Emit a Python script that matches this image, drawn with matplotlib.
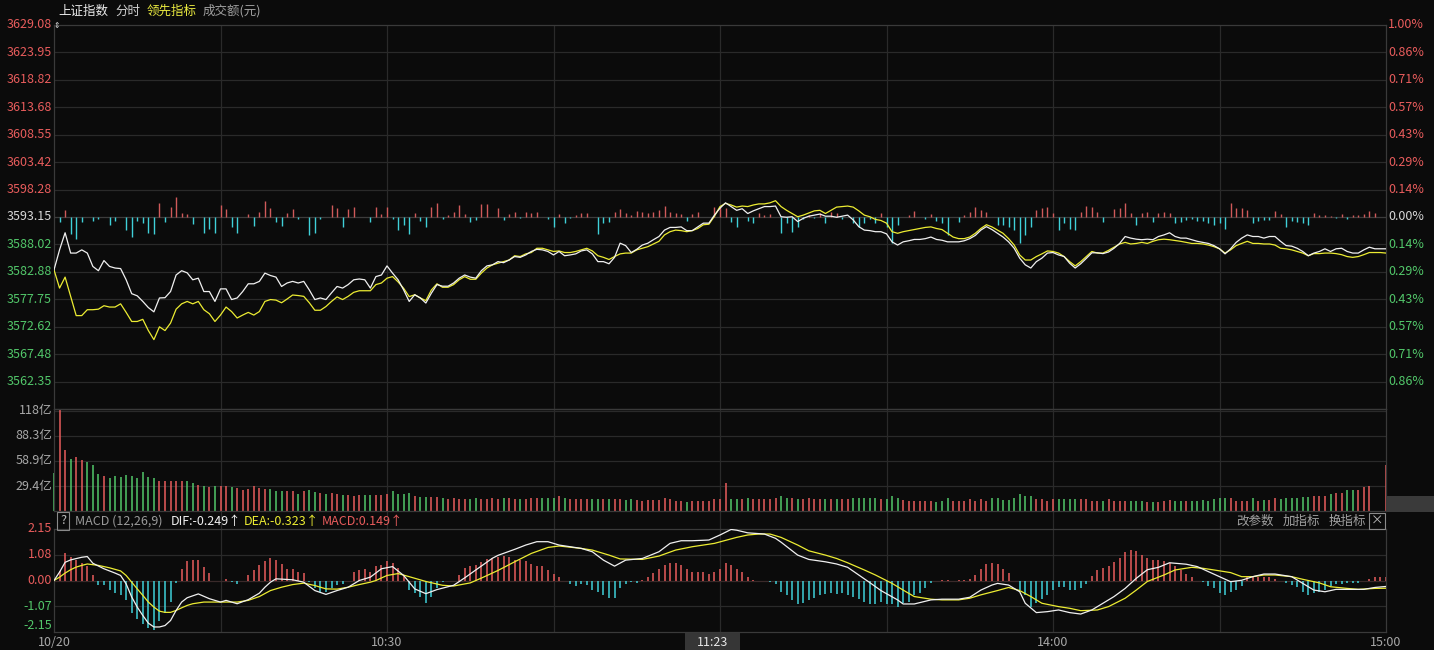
import matplotlib
matplotlib.use("Agg")
import matplotlib.pyplot as plt
import matplotlib.transforms as mtransforms
from matplotlib.patches import Rectangle
import numpy as np

plt.rcParams['font.family'] = ['Noto Sans CJK SC', 'DejaVu Sans']

# ---- data (one value per minute, 9:30 .. 15:00 -> 241 points) ----
prev_close = 3593.15

white = [
    3583.26, 3587.0, 3590.2, 3586.4, 3586.4, 3587.0, 3586.4, 3583.9, 3583.1, 3585.0,
    3583.9, 3583.6, 3583.5, 3581.4, 3578.8, 3578.4, 3577.35, 3576.2, 3575.4, 3578.0,
    3578.05, 3579.2, 3582.3, 3583.1, 3582.7, 3581.4, 3581.7, 3579.2, 3579.2, 3577.35,
    3579.7, 3579.7, 3577.7, 3578.0, 3579.2, 3580.65, 3580.65, 3581.1, 3582.65, 3582.2,
    3581.9, 3580.15, 3580.8, 3581.1, 3580.8, 3581.1, 3579.5, 3577.7, 3578.0, 3577.7,
    3578.95, 3580.15, 3579.85, 3580.5, 3581.4, 3581.55, 3581.4, 3579.85, 3582.0, 3582.3,
    3584.0, 3582.65, 3581.4, 3579.5, 3577.35, 3578.6, 3578.0, 3577.05, 3578.9, 3580.5,
    3580.2, 3580.2, 3580.8, 3581.7, 3582.3, 3581.9, 3581.7, 3583.1, 3584.0, 3584.2,
    3584.8, 3584.6, 3585.1, 3585.75, 3585.6, 3586.05, 3586.7, 3587.1, 3587.0, 3586.7,
    3586.05, 3586.7, 3585.9, 3586.05, 3586.25, 3586.8, 3587.0, 3586.25, 3584.8, 3584.8,
    3584.4, 3585.6, 3588.25, 3587.8, 3586.5, 3587.1, 3587.9, 3588.25, 3588.9, 3589.5,
    3590.7, 3591.2, 3591.2, 3591.3, 3590.6, 3590.6, 3591.3, 3592.0, 3592.0, 3593.5,
    3594.8, 3595.8, 3595.1, 3594.4, 3594.7, 3593.8, 3594.3, 3594.7, 3595.1, 3595.1,
    3595.2, 3593.2, 3593.1, 3593.2, 3592.3, 3592.9, 3593.3, 3593.5, 3593.7, 3593.3,
    3593.3, 3593.1, 3593.3, 3593.5, 3592.6, 3591.35, 3590.7, 3590.6, 3590.4, 3590.4,
    3590.0, 3588.5, 3587.9, 3588.5, 3588.7, 3588.95, 3588.95, 3589.1, 3589.4, 3588.95,
    3588.8, 3588.5, 3588.5, 3588.5, 3588.7, 3589.1, 3589.7, 3590.7, 3591.35, 3590.8,
    3590.1, 3589.4, 3588.5, 3587.3, 3585.45, 3584.2, 3583.6, 3584.8, 3585.45, 3586.4,
    3586.5, 3586.05, 3585.75, 3584.5, 3583.6, 3584.4, 3585.4, 3586.45, 3586.45, 3586.3,
    3586.6, 3587.3, 3588.2, 3589.5, 3589.2, 3589.0, 3588.9, 3589.0, 3588.9, 3589.5,
    3589.8, 3590.2, 3589.5, 3589.2, 3589.2, 3588.9, 3588.6, 3588.4, 3588.2, 3587.8,
    3587.2, 3586.25, 3587.2, 3588.4, 3589.2, 3589.8, 3589.5, 3589.5, 3589.2, 3589.5,
    3589.5, 3588.6, 3587.8, 3587.7, 3587.3, 3586.7, 3585.9, 3586.4, 3586.7, 3587.2,
    3586.7, 3587.2, 3587.3, 3586.7, 3586.4, 3586.4, 3587.0, 3587.5, 3587.2, 3587.2,
    3587.2,
]

yellow = [
    3583.26, 3579.85, 3581.9, 3578.3, 3574.7, 3574.7, 3575.8, 3575.8, 3575.9, 3576.55,
    3576.3, 3576.3, 3576.9, 3575.3, 3573.6, 3573.6, 3574.0, 3571.9, 3570.2, 3572.6,
    3571.9, 3573.3, 3575.9, 3576.9, 3577.35, 3576.9, 3577.35, 3575.8, 3575.05, 3573.6,
    3574.8, 3576.3, 3575.45, 3574.25, 3574.8, 3575.3, 3574.8, 3575.45, 3577.35, 3577.7,
    3577.6, 3577.1, 3577.8, 3578.55, 3578.45, 3578.3, 3577.1, 3575.7, 3575.7, 3576.4,
    3577.35, 3578.2, 3577.7, 3578.3, 3579.05, 3579.35, 3579.35, 3579.35, 3580.5, 3580.8,
    3581.7, 3582.0, 3581.0, 3579.8, 3578.25, 3578.6, 3578.0, 3577.5, 3579.5, 3580.65,
    3580.0, 3580.0, 3580.5, 3581.4, 3582.0, 3581.5, 3581.5, 3582.65, 3583.6, 3584.2,
    3584.5, 3584.8, 3585.1, 3585.9, 3585.75, 3586.25, 3586.5, 3587.3, 3587.3, 3587.0,
    3586.7, 3586.8, 3586.5, 3586.5, 3586.7, 3587.0, 3587.3, 3586.8, 3585.9, 3585.6,
    3585.2, 3585.75, 3586.25, 3586.4, 3586.4, 3587.0, 3587.3, 3587.6, 3588.1, 3588.6,
    3589.8, 3590.4, 3590.7, 3590.6, 3590.4, 3590.6, 3591.0, 3591.7, 3591.8, 3593.3,
    3595.1, 3595.7, 3595.4, 3595.0, 3595.2, 3595.1, 3595.4, 3595.6, 3595.6, 3595.8,
    3596.2, 3595.1, 3594.4, 3593.8, 3593.2, 3593.5, 3593.9, 3594.3, 3594.4, 3593.8,
    3594.4, 3595.0, 3595.1, 3595.2, 3595.0, 3594.3, 3593.5, 3593.2, 3592.7, 3592.5,
    3592.0, 3590.4, 3590.1, 3590.4, 3590.6, 3590.8, 3591.0, 3591.2, 3591.3, 3591.0,
    3590.8, 3590.1, 3589.4, 3589.1, 3589.1, 3589.4, 3590.1, 3591.0, 3591.7, 3591.3,
    3590.7, 3590.1, 3589.1, 3587.9, 3586.05, 3585.1, 3585.1, 3585.75, 3586.25, 3586.8,
    3586.7, 3586.4, 3585.75, 3584.8, 3584.0, 3584.8, 3585.75, 3586.7, 3586.4, 3586.4,
    3586.9, 3587.5, 3588.1, 3588.4, 3588.1, 3588.2, 3588.4, 3588.2, 3588.6, 3588.9,
    3589.0, 3588.9, 3588.75, 3588.6, 3588.4, 3588.2, 3588.2, 3588.1, 3587.9, 3587.6,
    3587.2, 3586.4, 3587.0, 3587.8, 3588.2, 3588.6, 3588.2, 3588.2, 3588.1, 3588.1,
    3587.9, 3587.3, 3587.2, 3587.0, 3586.7, 3586.4, 3585.9, 3586.3, 3586.3, 3586.4,
    3586.4, 3586.3, 3586.1, 3585.75, 3585.6, 3585.75, 3586.1, 3586.5, 3586.5, 3586.5,
    3586.4,
]

# leading-indicator bars (relative strength units)
lead = [
    0, -5, 7, -17, -22, -5, 0, -4, -2, 0,
    -8, -4, 0, -13, -20, -4, -6, -16, -17, 14,
    -5, 10, 20, 4, 3, -7, 0, -16, -12, -16,
    12, 8, -10, -16, 0, 3, -9, 5, 16, 9,
    -5, -9, 4, 8, -2, 0, -18, -16, -2, 0,
    12, 9, -10, 8, 10, 0, 0, -5, 10, 3,
    10, -2, -13, -8, -17, 4, -4, -10, 10, 14,
    -2, 2, 5, 12, 3, -5, -3, 13, 13, 0,
    9, -3, 3, 5, -1, 5, 4, 5, 0, -2,
    -10, 3, -6, -1, 2, 4, 4, 0, -17, -6,
    -5, 5, 8, 4, 2, 6, 5, 4, 5, 7,
    11, 5, 4, 3, -4, 3, 5, 0, 0, 10,
    10, 9, -5, -10, 0, -4, -6, 4, 2, 3,
    0, -16, -6, -15, -10, -2, 2, -1, 4, -6,
    5, 4, -2, 0, -6, -10, -6, -2, -6, 4,
    -10, -26, -8, 0, 2, 6, 0, -2, 3, -4,
    -6, -18, 0, -5, 2, 5, 10, 7, 5, 0,
    -8, -8, -10, -13, -26, -18, -10, 7, 9, 10,
    4, -13, -6, -12, -13, 5, 11, 10, 5, -5,
    0, 8, 9, 14, 4, -8, 4, 5, -5, 4,
    5, 4, -6, -5, -3, -2, -4, -4, -6, -8,
    -6, -12, 14, 9, 9, 7, -6, -4, -3, -3,
    6, 3, -10, -4, -5, -6, -8, 4, 2, 2,
    1, -1, 3, -2, 2, 2, 3, 6, 4, 0,
    0,
]

# turnover per minute, 亿元
volume = [
    45, 119, 72, 61, 63, 60, 58, 54, 43.5, 41,
    38.4, 41, 39.6, 42.3, 41, 38.4, 46, 40.4, 38.4, 35.7,
    34.9, 34.9, 34.9, 34.9, 34.9, 32.5, 30.6, 29.4, 28.6, 29.4,
    29.4, 29.4, 27.8, 26.7, 24.7, 25.5, 29.4, 26.7, 25.5, 25.5,
    23.9, 23.9, 23.9, 23.9, 20, 23.9, 24.7, 22.7, 20.8, 20,
    21.6, 20, 18.8, 18.8, 18, 18.8, 18.8, 18.8, 18.8, 18.8,
    19.6, 23.5, 19.6, 19.6, 20.8, 17.6, 16.9, 16.9, 16.1, 16.1,
    14.9, 13.7, 14.9, 13.7, 13.7, 13.7, 15.7, 13.7, 13.7, 15.7,
    13.7, 14.9, 14.9, 13.7, 13.7, 13.7, 14.9, 14.9, 15.7, 14.9,
    15.7, 17.6, 14.9, 13.7, 13.7, 13.7, 13.7, 13.7, 13.7, 13.7,
    13.7, 13.7, 13.7, 12.9, 13.7, 12.9, 12.2, 12.9, 12.9, 12.9,
    14.9, 13.7, 12.2, 12.2, 11, 12.2, 12.2, 12.2, 12.2, 13.7,
    13.7, 33.3, 13.7, 13.7, 13.7, 15.7, 13.7, 13.7, 13.7, 13.7,
    15.7, 17.6, 14.9, 14.9, 13.7, 13.7, 14.9, 13.7, 13.7, 13.7,
    13.7, 13.7, 13.7, 13.7, 14.9, 15.7, 14.9, 14.9, 14.9, 13.7,
    13.7, 17.6, 14.9, 12.9, 12.2, 12.2, 12.2, 12.2, 12.2, 11,
    12.2, 14.9, 12.2, 12.2, 12.2, 13.7, 12.2, 13.7, 12.2, 15.7,
    15.7, 12.9, 12.9, 14.9, 19.6, 17.6, 17.6, 13.7, 13.7, 12.2,
    13.7, 13.7, 13.7, 13.7, 13.7, 13.7, 13.7, 12.2, 12.2, 12.2,
    13.7, 12.2, 12.2, 12.2, 12.2, 12.2, 12.2, 11, 11, 11,
    12.2, 12.9, 12.2, 12.2, 12.2, 12.2, 12.2, 12.9, 12.2, 13.7,
    14.9, 14.9, 14.9, 12.2, 12.2, 12.2, 14.9, 12.2, 12.9, 12.9,
    14.9, 13.7, 14.9, 14.9, 14.9, 16.9, 16.9, 17.6, 17.6, 17.6,
    20, 20.8, 20.8, 24.7, 24.7, 24.7, 27.8, 29.4, 0, 0,
    54,
]

macd_hist = [
    0, 0.4, 1.13, 0.97, 0.86, 0.72, 0.6, 0.25, -0.19, -0.19,
    -0.39, -0.53, -0.62, -0.83, -1.34, -1.62, -1.81, -2.0, -2.06, -1.67,
    -1.36, -0.91, -0.1, 0.46, 0.83, 0.85, 0.85, 0.56, 0.31, 0,
    0, 0.07, -0.07, -0.14, 0, 0.25, 0.42, 0.63, 0.83, 0.93,
    0.86, 0.67, 0.49, 0.5, 0.35, 0.31, -0.07, -0.3, -0.49, -0.49,
    -0.32, -0.17, -0.14, 0, 0.35, 0.44, 0.49, 0.35, 0.59, 0.66,
    0.8, 0.73, 0.53, 0.2, -0.38, -0.52, -0.67, -0.93, -0.68, -0.3,
    -0.07, -0.03, 0, 0.22, 0.52, 0.6, 0.64, 0.77, 0.91, 0.95,
    1.0, 1.01, 0.99, 0.85, 0.85, 0.82, 0.68, 0.6, 0.6, 0.43,
    0.26, 0.13, 0, -0.13, -0.24, -0.13, -0.2, -0.38, -0.47, -0.61,
    -0.75, -0.71, -0.33, -0.13, -0.06, -0.1, 0.04, 0.13, 0.3, 0.5,
    0.64, 0.74, 0.74, 0.64, 0.5, 0.36, 0.36, 0.36, 0.26, 0.36,
    0.5, 0.74, 0.64, 0.5, 0.36, 0.13, 0.04, 0, 0, -0.06,
    -0.15, -0.47, -0.61, -0.82, -0.99, -0.96, -0.82, -0.75, -0.61, -0.57,
    -0.54, -0.57, -0.54, -0.61, -0.68, -0.79, -0.89, -0.99, -0.99, -0.89,
    -0.99, -0.99, -1.1, -0.96, -0.89, -0.61, -0.51, -0.33, -0.1, -0.01,
    0.01, 0.01, 0, 0.01, 0.01, 0.08, 0.22, 0.5, 0.68, 0.74,
    0.68, 0.5, 0.32, 0, -0.4, -0.61, -1.1, -0.96, -0.79, -0.61,
    -0.4, -0.29, -0.29, -0.38, -0.4, -0.33, -0.13, 0.18, 0.43, 0.54,
    0.6, 0.78, 0.96, 1.19, 1.26, 1.24, 1.06, 0.96, 0.86, 0.84,
    0.82, 0.75, 0.6, 0.43, 0.27, 0.15, 0, -0.06, -0.24, -0.33,
    -0.51, -0.61, -0.47, -0.4, -0.24, 0.13, 0.13, 0.15, 0.15, 0.13,
    0.08, 0, -0.1, -0.19, -0.29, -0.47, -0.61, -0.54, -0.47, -0.4,
    -0.24, -0.15, -0.13, -0.1, -0.1, -0.1, 0, 0.08, 0.13, 0.13,
    0.149,
]

# DIF / DEA at these minutes
dif_t = [0, 1, 2, 3, 5, 6, 7, 9, 11, 12, 13, 14, 15, 16, 17, 18, 19, 20, 21, 22,
         23, 24, 26, 28, 30, 31, 33, 35, 37, 38, 39, 40, 43, 45, 47, 49, 51, 53, 55, 57,
         59, 61, 63, 65, 67, 69, 72, 74, 76, 79, 80, 83, 85, 87, 89, 91, 95, 97, 99, 101,
         103, 106, 109, 111, 113, 115, 118, 120, 122, 123, 125, 128, 130, 131, 134, 136, 139, 141, 143, 145,
         147, 149, 152, 153, 155, 158, 160, 163, 165, 167, 169, 170, 172, 174, 175, 177, 179, 181, 183, 185,
         187, 189, 191, 193, 195, 197, 199, 201, 204, 206, 208, 210, 212, 214, 216, 218, 220, 223, 225, 227,
         229, 231, 234, 236, 238, 240]
dif_v = [0, 0.35, 0.76, 0.86, 0.97, 1.0, 0.72, 0.49, 0.31, 0.21, -0.14, -0.69, -1.11, -1.46, -1.78, -1.94, -1.94, -1.88, -1.67, -1.25,
         -0.9, -0.72, -0.56, -0.76, -0.9, -0.83, -0.97, -0.8, -0.53, -0.28, -0.07, 0.07, 0.03, -0.07, -0.42, -0.58, -0.42, -0.28, 0, 0.14,
         0.49, 0.58, 0.21, -0.35, -0.55, -0.38, -0.2, 0.11, 0.44, 0.93, 1.05, 1.3, 1.48, 1.62, 1.62, 1.48, 1.34, 1.2, 0.85, 0.6,
         0.85, 0.92, 1.2, 1.55, 1.66, 1.66, 1.69, 1.9, 2.13, 2.1, 1.99, 1.94, 1.76, 1.6, 1.06, 0.88, 0.78, 0.69, 0.55, 0.23,
         -0.09, -0.42, -0.81, -0.98, -0.98, -0.81, -0.78, -0.78, -0.7, -0.4, -0.19, -0.12, -0.19, -0.47, -0.95, -1.34, -1.3, -1.23, -1.34, -1.4,
         -1.23, -0.95, -0.67, -0.33, 0.09, 0.45, 0.55, 0.74, 0.68, 0.58, 0.37, 0.16, -0.05, 0.01, 0.16, 0.27, 0.27, 0.16, -0.12, -0.4,
         -0.47, -0.37, -0.37, -0.37, -0.29, -0.249]

dea_t = [0, 1, 2, 3, 4, 5, 6, 8, 10, 12, 13, 14, 15, 16, 17, 18, 19, 20, 21, 22,
         23, 24, 25, 27, 33, 35, 37, 39, 41, 43, 45, 47, 49, 51, 53, 55, 57, 58, 60, 62,
         64, 67, 70, 72, 75, 77, 80, 83, 86, 89, 91, 95, 97, 100, 102, 106, 109, 112, 115, 119,
         123, 125, 127, 129, 131, 134, 136, 139, 141, 143, 146, 148, 151, 153, 155, 158, 160, 163, 165, 167,
         170, 172, 174, 176, 178, 181, 183, 185, 188, 190, 193, 195, 197, 200, 202, 205, 207, 209, 212, 214,
         216, 218, 220, 223, 225, 228, 230, 233, 235, 238, 240]
dea_v = [0, 0.14, 0.31, 0.45, 0.56, 0.63, 0.69, 0.63, 0.53, 0.4, 0.21, -0.07, -0.35, -0.62, -0.9, -1.11, -1.28, -1.33, -1.33, -1.25,
         -1.14, -1.04, -0.97, -0.9, -0.9, -0.83, -0.67, -0.42, -0.28, -0.17, -0.11, -0.21, -0.35, -0.36, -0.28, -0.17, -0.07, 0, 0.21, 0.29,
         0.16, -0.04, -0.2, -0.23, -0.1, 0.1, 0.42, 0.78, 1.13, 1.38, 1.44, 1.34, 1.27, 1.06, 0.9, 0.88, 1.02, 1.27, 1.41, 1.55,
         1.8, 1.9, 1.94, 1.94, 1.8, 1.48, 1.24, 1.06, 0.92, 0.74, 0.44, 0.23, -0.12, -0.4, -0.67, -0.78, -0.81, -0.81, -0.74, -0.6,
         -0.42, -0.29, -0.42, -0.67, -0.95, -1.09, -1.16, -1.26, -1.23, -1.09, -0.74, -0.4, -0.04, 0.23, 0.44, 0.55, 0.51, 0.44, 0.33, 0.16,
         0.16, 0.23, 0.23, 0.16, 0.05, -0.1, -0.26, -0.33, -0.37, -0.33, -0.323]

price_ticks = [3629.08, 3623.95, 3618.82, 3613.68, 3608.55, 3603.42, 3598.28,
               3593.15, 3588.02, 3582.88, 3577.75, 3572.62, 3567.48, 3562.35]
vol_ticks = [118, 88.3, 58.9, 29.4]
vol_labels = ['118亿', '88.3亿', '58.9亿', '29.4亿']
macd_ticks = [2.15, 1.08, 0.00, -1.07, -2.15]
time_ticks = [0, 60, 180, 240]
time_labels = ['10/20', '10:30', '14:00', '15:00']
cursor_label = '11:23'
grid_minutes = [30, 60, 90, 120, 150, 180, 210]

# ---- styling ----
W, H = 1434, 650
BG = '#0b0b0b'
GRID = '#2a2a2a'
RED = '#e85c5c'
GREEN = '#52c76a'
CYAN = '#3fd0d8'
WHITE_LINE = '#f0f0f0'
YELLOW_LINE = '#ecec32'
LABEL_GREY = '#a8a8a8'
FS = 9


def box(x0, y0, x1, y1):
    return [x0 / W, 1 - y1 / H, (x1 - x0) / W, (y1 - y0) / H]


t = np.arange(len(white))
white = np.array(white)
yellow = np.array(yellow)
lead = np.array(lead, dtype=float)
volume = np.array(volume, dtype=float)
macd_hist = np.array(macd_hist)

fig = plt.figure(figsize=(W / 100, H / 100), dpi=100, facecolor=BG)

# background axis carrying the 30-minute vertical grid through all panels
bg = fig.add_axes(box(54, 25, 1386, 632))
bg.set_facecolor(BG)
bg.set_xlim(0, 240)
bg.set_ylim(0, 1)
for m in grid_minutes:
    bg.axvline(m, color=GRID, lw=0.9)
bg.set_xticks([])
bg.set_yticks([])
for s in bg.spines.values():
    s.set_visible(False)
bg.set_zorder(0)


def panel(rect):
    ax = fig.add_axes(rect)
    ax.set_facecolor('none')
    ax.set_xlim(0, 240)
    ax.set_xticks([])
    ax.set_yticks([])
    for s in ax.spines.values():
        s.set_color('#3a3a3a')
        s.set_linewidth(0.9)
    ax.set_zorder(1)
    return ax


# ---- main price panel ----
ax = panel(box(54, 25, 1386, 409))
half = price_ticks[0] - prev_close
ax.set_ylim(prev_close - half, prev_close + half)
for v in price_ticks[1:]:
    ax.axhline(v, color='#3c3c3c' if v == prev_close else GRID, lw=0.9, zorder=0)

lead_scale = 0.19  # index points per lead unit
lead_col = np.where(lead > 0, '#d05a5a', CYAN)
nz = lead != 0
ax.vlines(t[nz], prev_close, prev_close + lead[nz] * lead_scale,
          colors=lead_col[nz], lw=1.0, zorder=2)
ax.plot(t, yellow, color=YELLOW_LINE, lw=0.9, zorder=3)
ax.plot(t, white, color=WHITE_LINE, lw=0.9, zorder=4)

ytr = mtransforms.blended_transform_factory(fig.transFigure, ax.transData)
for v in price_ticks:
    if v > prev_close + 0.001:
        c = RED
    elif v < prev_close - 0.001:
        c = GREEN
    else:
        c = '#d8d8d8'
    pct = abs(v - prev_close) / prev_close * 100
    ax.text(52 / W, v, f'{v:.2f}', transform=ytr, ha='right', va='center',
            color=c, fontsize=FS)
    ax.text(1424 / W, v, f'{pct:.2f}%', transform=ytr, ha='right', va='center',
            color=c, fontsize=FS)
fig.text(53.5 / W, 1 - 25 / H, '⇕', color='#dddddd', fontsize=5.5,
         ha='left', va='center', family=['DejaVu Sans'])

# ---- volume panel ----
axv = panel(box(54, 409, 1386, 511))
axv.set_ylim(0, 120)
for v in vol_ticks:
    axv.axhline(v, color=GRID, lw=0.9, zorder=0)
diff = np.diff(white, prepend=prev_close)
vol_col = np.where(diff >= 0, RED, GREEN)
vz = volume > 0
axv.vlines(t[vz], 0, volume[vz], colors=vol_col[vz], lw=1.1, zorder=2, clip_on=False)
vtr = mtransforms.blended_transform_factory(fig.transFigure, axv.transData)
for v, lab in zip(vol_ticks, vol_labels):
    axv.text(52 / W, v, lab, transform=vtr, ha='right', va='center',
             color=LABEL_GREY, fontsize=FS)

# ---- MACD panel ----
axm = panel(box(54, 529, 1386, 632))
axm.set_ylim(-2.15, 2.15)
for v in macd_ticks[1:-1]:
    axm.axhline(v, color=GRID if v != 0 else '#3a2a2a', lw=0.9, zorder=0)
hist_col = np.where(macd_hist > 0, RED, CYAN)
hz = macd_hist != 0
axm.vlines(t[hz], 0, macd_hist[hz], colors=hist_col[hz], lw=1.1, zorder=2, clip_on=False)
axm.plot(dea_t, dea_v, color=YELLOW_LINE, lw=0.9, zorder=3)
axm.plot(dif_t, dif_v, color=WHITE_LINE, lw=0.9, zorder=4)
mtr = mtransforms.blended_transform_factory(fig.transFigure, axm.transData)
for v in macd_ticks:
    c = RED if v >= 0 else GREEN
    va = 'bottom' if v == macd_ticks[-1] else 'center'
    axm.text(52 / W, v, f'{v:.2f}', transform=mtr, ha='right', va=va,
             color=c, fontsize=FS)

# ---- x labels ----
xtr = mtransforms.blended_transform_factory(axm.transData, fig.transFigure)
for m, lab in zip(time_ticks, time_labels):
    axm.text(m, 1 - 642 / H, lab, transform=xtr, ha='center', va='center',
             color=LABEL_GREY, fontsize=FS)
# cursor time tag
fig.text(712.5 / W, 1 - 642 / H, cursor_label, color='#e8e8e8', fontsize=FS,
         ha='center', va='center', zorder=5)
fig.patches.append(Rectangle((685 / W, 0), 55 / W, 17 / H, transform=fig.transFigure,
                             facecolor='#363636', edgecolor='none', zorder=0.5))

# ---- header texts ----
def ftext(x, y, s, color, **kw):
    fig.text(x / W, 1 - y / H, s, color=color, fontsize=FS, va='center', **kw)


ftext(58, 11, '上证指数', '#ececec')
ftext(115, 11, '分时', '#d0d0d0')
ftext(147, 11, '领先指标', '#ecec40')
ftext(203, 11, '成交额(元)', '#a0a0a0')

ftext(63, 521, '?', '#bbbbbb', ha='center',
      bbox=dict(boxstyle='square,pad=0.2', fc='none', ec='#8a8a8a', lw=0.8))
ftext(75, 521, 'MACD (12,26,9)', '#9a9a9a')
ftext(171, 521, 'DIF:-0.249↑', '#f0f0f0')
ftext(244, 521, 'DEA:-0.323↑', '#ecec32')
ftext(322, 521, 'MACD:0.149↑', RED)
ftext(1236, 521, '改参数', '#a0a0a0')
ftext(1283, 521, '加指标', '#a0a0a0')
ftext(1329, 521, '换指标', '#a0a0a0')
ftext(1377, 521, '×', '#bbbbbb', ha='center',
      bbox=dict(boxstyle='square,pad=0.15', fc='none', ec='#8a8a8a', lw=0.8))

# grey marker box right of the volume panel
fig.patches.append(Rectangle((1387 / W, 1 - 512 / H), 47 / W, 16 / H,
                             transform=fig.transFigure, facecolor='#3a3a3a',
                             edgecolor='none'))

fig.savefig('out.png', dpi=100, facecolor=BG)
